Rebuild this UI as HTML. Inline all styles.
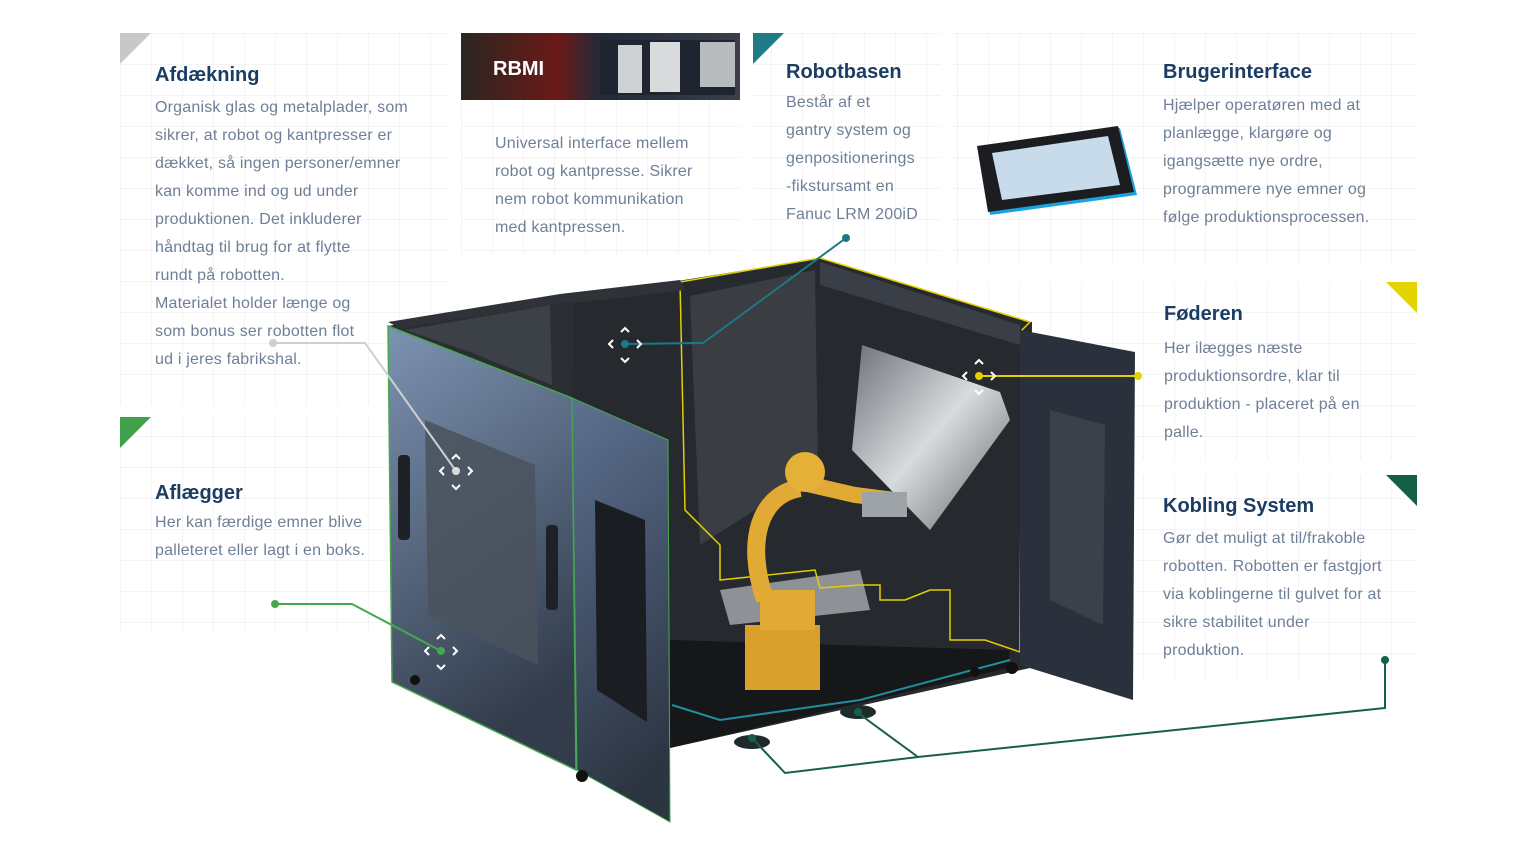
<!DOCTYPE html>
<html><head><meta charset="utf-8"><style>
html,body{margin:0;padding:0;background:#fff;}
svg{display:block}
.t{font-family:"Liberation Sans",sans-serif;font-weight:bold;font-size:20px;fill:#1c3d63}
.b{font-family:"Liberation Sans",sans-serif;font-size:16px;fill:#6f7f96;letter-spacing:0.2px}
</style></head><body>
<svg width="1536" height="858" viewBox="0 0 1536 858" xmlns="http://www.w3.org/2000/svg">
<defs>
<pattern id="g" x="120" y="33" width="31" height="31" patternUnits="userSpaceOnUse">
<path d="M0 0H31M0 0V31" stroke="#e8e8e8" stroke-width="1" fill="none"/></pattern>
<linearGradient id="side" x1="0" y1="0" x2="0.3" y2="1"><stop offset="0" stop-color="#7d93b3"/><stop offset="1" stop-color="#323c4b"/></linearGradient>
<linearGradient id="door" x1="0" y1="0" x2="0.2" y2="1"><stop offset="0" stop-color="#5d7192"/><stop offset="1" stop-color="#2c3542"/></linearGradient>
<linearGradient id="plate" x1="0" y1="0" x2="1" y2="1"><stop offset="0" stop-color="#6d7278"/><stop offset=".5" stop-color="#d8dbde"/><stop offset="1" stop-color="#5a5f64"/></linearGradient>
<linearGradient id="rb" x1="0" y1="0" x2="1" y2="0"><stop offset="0" stop-color="#2b2622"/><stop offset=".35" stop-color="#6b1a16"/><stop offset=".5" stop-color="#202a3a"/><stop offset="1" stop-color="#3a3f48"/></linearGradient>
</defs>
<rect x="120" y="33" width="330" height="372" fill="url(#g)"/>
<rect x="461" y="100" width="279" height="155" fill="url(#g)"/>
<rect x="753" y="33" width="187" height="232" fill="url(#g)"/>
<rect x="953" y="33" width="464" height="232" fill="url(#g)"/>
<rect x="953" y="282" width="464" height="178" fill="url(#g)"/>
<rect x="1135" y="475" width="282" height="205" fill="url(#g)"/>
<rect x="120" y="417" width="270" height="216" fill="url(#g)"/>
<polygon points="120,33 151,33 120,64" fill="#c8c8c8"/>
<polygon points="753,33 784,33 753,64" fill="#1f7c87"/>
<polygon points="1386,282 1417,282 1417,313" fill="#e3d400"/>
<polygon points="1386,475 1417,475 1417,506" fill="#165e46"/>
<polygon points="120,417 151,417 120,448" fill="#3fa24a"/>
<rect x="461" y="33" width="279" height="67" fill="url(#rb)"/>
<rect x="600" y="40" width="135" height="55" fill="#1e2430"/>
<rect x="618" y="45" width="24" height="48" fill="#cfd2d4"/>
<rect x="650" y="42" width="30" height="50" fill="#d8dadb"/>
<rect x="700" y="42" width="35" height="45" fill="#b9bcbf"/>
<text x="493" y="75" style="font-family:'Liberation Sans',sans-serif;font-weight:bold;font-size:20px;fill:#fff">RBMI</text>
<polygon points="978,148 1120,128 1137,195 990,215" fill="#1aa2e0"/>
<polygon points="977,146 1118,126 1134,192 988,212" fill="#1c1d20"/>
<polygon points="992,153 1108,136 1120,185 1002,200" fill="#c7dbea"/>
<polygon points="560,300 820,258 1032,322 1030,668 670,748 575,700" fill="#26292e"/>
<polygon points="388,326 560,296 575,302 572,398" fill="#2a2d32"/>
<polygon points="405,330 550,305 552,385 470,352" fill="#3c4047"/>
<polygon points="690,296 815,270 818,470 700,545" fill="#3a3d42"/>
<polygon points="820,262 1020,325 1020,345 820,285" fill="#3a3f47"/>
<polygon points="862,345 1000,392 1010,420 930,530 852,450" fill="url(#plate)"/>
<polygon points="670,640 1010,650 1008,668 670,748" fill="#161719"/>
<polygon points="720,590 860,570 870,610 730,625" fill="#8e9195"/>
<polyline points="680,282 820,258 1030,322 1022,330 1020,652 985,640 950,640 950,590 930,590 905,600 880,600 880,585 860,585 820,588 815,570 720,580 720,545 685,510 680,282" fill="none" stroke="#e2d000" stroke-width="1.5"/>
<polyline points="672,705 720,720 860,700 1010,660" fill="none" stroke="#1f8fa0" stroke-width="2"/>
<rect x="745" y="625" width="75" height="65" fill="#d9a12c"/>
<rect x="760" y="590" width="55" height="40" fill="#e0aa34"/>
<path d="M765 600 C745 540 760 495 800 488" fill="none" stroke="#e0aa34" stroke-width="18"/>
<path d="M790 480 L855 495 L895 500" fill="none" stroke="#e0aa34" stroke-width="16"/>
<circle cx="805" cy="472" r="20" fill="#e5b038"/>
<rect x="862" y="492" width="45" height="25" fill="#9ea3a8"/>
<polygon points="1020,330 1135,352 1133,700 1020,665" fill="#2a313c"/>
<polygon points="1050,410 1105,425 1103,625 1050,600" fill="#3a414b"/>
<polygon points="388,322 560,294 580,300 400,328" fill="#2f3338"/>
<polygon points="560,294 680,280 685,290 575,303" fill="#2f3338"/>
<polygon points="388,326 572,398 576,770 392,682" fill="url(#side)" stroke="#46a84e" stroke-width="1.5"/>
<polygon points="425,420 535,465 538,665 428,615" fill="#4a525d" opacity=".85"/>
<rect x="398" y="455" width="12" height="85" rx="4" fill="#1e2227"/>
<rect x="546" y="525" width="12" height="85" rx="4" fill="#1e2227"/>
<polygon points="572,398 668,440 670,822 577,770" fill="url(#door)" stroke="#46a84e" stroke-width="1"/>
<polygon points="595,500 645,520 647,722 597,690" fill="#1a1d22"/>
<circle cx="415" cy="680" r="5" fill="#111"/><circle cx="582" cy="776" r="6" fill="#111"/>
<circle cx="1012" cy="668" r="6" fill="#111"/><circle cx="975" cy="672" r="5" fill="#111"/>
<ellipse cx="752" cy="742" rx="18" ry="7" fill="#1f2a2a"/><ellipse cx="858" cy="712" rx="18" ry="7" fill="#1f2a2a"/>
<g fill="none" stroke-width="2">
<polyline points="846,238 703,343 625,344" stroke="#1a7a85"/>
<polyline points="1138,376 979,376" stroke="#e2d000"/>
<polyline points="273,343 365,343 456,471" stroke="#cfcfcf"/>
<polyline points="275,604 352,604 441,651" stroke="#46a84e"/>
<polyline points="1385,660 1385,708 918,757 858,713" stroke="#16604a"/>
<polyline points="918,757 785,773 752,738" stroke="#16604a"/>
</g>
<g>
<circle cx="846" cy="238" r="4" fill="#1a7a85"/><circle cx="625" cy="344" r="4" fill="#1a7a85"/>
<circle cx="1138" cy="376" r="4" fill="#e2d000"/><circle cx="979" cy="376" r="4" fill="#e2d000"/>
<circle cx="273" cy="343" r="4" fill="#cfcfcf"/><circle cx="456" cy="471" r="4" fill="#ddd"/>
<circle cx="275" cy="604" r="4" fill="#46a84e"/><circle cx="441" cy="651" r="4" fill="#46a84e"/>
<circle cx="1385" cy="660" r="4" fill="#16604a"/><circle cx="858" cy="712" r="4" fill="#16604a"/><circle cx="752" cy="738" r="4" fill="#16604a"/>
</g>
<g fill="none" stroke="#fff" stroke-width="2">
<path d="M621 332l4-4 4 4M621 358l4 4 4-4M613 340l-4 4 4 4M637 340l4 4-4 4"/>
<path d="M975 364l4-4 4 4M975 390l4 4 4-4M967 372l-4 4 4 4M991 372l4 4-4 4"/>
<path d="M452 459l4-4 4 4M452 485l4 4 4-4M444 467l-4 4 4 4M468 467l4 4-4 4"/>
<path d="M437 639l4-4 4 4M437 665l4 4 4-4M429 647l-4 4 4 4M453 647l4 4-4 4"/>
</g>
<text class="t" x="155" y="81">Afdækning</text>
<g class="b"><text x="155" y="112">Organisk glas og metalplader, som</text><text x="155" y="140">sikrer, at robot og kantpresser er</text><text x="155" y="168">dækket, så ingen personer/emner</text><text x="155" y="196">kan komme ind og ud under</text><text x="155" y="224">produktionen. Det inkluderer</text><text x="155" y="252">håndtag til brug for at flytte</text><text x="155" y="280">rundt på robotten.</text><text x="155" y="308">Materialet holder længe og</text><text x="155" y="336">som bonus ser robotten flot</text><text x="155" y="364">ud i jeres fabrikshal.</text></g>
<g class="b"><text x="495" y="148">Universal interface mellem</text><text x="495" y="176">robot og kantpresse. Sikrer</text><text x="495" y="204">nem robot kommunikation</text><text x="495" y="232">med kantpressen.</text></g>
<text class="t" x="786" y="78">Robotbasen</text>
<g class="b"><text x="786" y="107">Består af et</text><text x="786" y="135">gantry system og</text><text x="786" y="163">genpositionerings</text><text x="786" y="191">-fikstursamt en</text><text x="786" y="219">Fanuc LRM 200iD</text></g>
<text class="t" x="1163" y="78">Brugerinterface</text>
<g class="b"><text x="1163" y="110">Hjælper operatøren med at</text><text x="1163" y="138">planlægge, klargøre og</text><text x="1163" y="166">igangsætte nye ordre,</text><text x="1163" y="194">programmere nye emner og</text><text x="1163" y="222">følge produktionsprocessen.</text></g>
<text class="t" x="1164" y="320">Føderen</text>
<g class="b"><text x="1164" y="353">Her ilægges næste</text><text x="1164" y="381">produktionsordre, klar til</text><text x="1164" y="409">produktion - placeret på en</text><text x="1164" y="437">palle.</text></g>
<text class="t" x="1163" y="512">Kobling System</text>
<g class="b"><text x="1163" y="543">Gør det muligt at til/frakoble</text><text x="1163" y="571">robotten. Robotten er fastgjort</text><text x="1163" y="599">via koblingerne til gulvet for at</text><text x="1163" y="627">sikre stabilitet under</text><text x="1163" y="655">produktion.</text></g>
<text class="t" x="155" y="499">Aflægger</text>
<g class="b"><text x="155" y="527">Her kan færdige emner blive</text><text x="155" y="555">palleteret eller lagt i en boks.</text></g>
</svg>
</body></html>
